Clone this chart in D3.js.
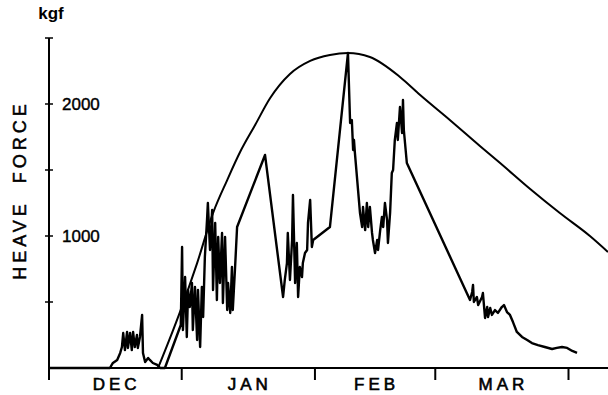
<!DOCTYPE html>
<html>
<head>
<meta charset="utf-8">
<script src="https://cdn.jsdelivr.net/npm/d3@7"></script>
<style>
  body { margin: 0; background: #fff; }
  text { font-family: "Liberation Sans", Arial, sans-serif; fill: #000; }
</style>
</head>
<body>
<div id="mainContainer"><svg></svg></div>
<script>
const SVG_WIDTH = 608;
const SVG_HEIGHT = 395;

// days counted from 1 December
const monthStarts = [0, 31, 62, 90, 121];
const monthNames = ["DEC", "JAN", "FEB", "MAR"];
const forceTicks = [500, 1000, 1500, 2000];
const forceLabels = [1000, 2000];

// measured heave force (kgf)
const measuredDays = [0, 14.4, 15.1, 16.1, 16.8, 17.2, 17.5, 17.9, 18.4, 18.6, 19.1, 19.5, 19.8, 20.2, 20.7, 20.9, 21.4, 21.9, 22.1, 22.6, 23.3, 23.7, 24.4, 25.4, 26.1,
  27.2, 30.9, 31.2, 31.4, 31.9, 32.3, 32.6, 33.0, 33.5, 33.7, 34.2, 34.7, 34.9, 35.4, 35.8, 36.1, 36.5, 37.0, 37.2, 37.7, 38.2, 38.4, 38.9, 39.3, 39.6, 40.0, 40.5, 40.7, 41.2, 41.7, 41.9, 42.4, 42.8, 43.0, 43.5, 44.0,
  50.5, 54.7, 55.1, 55.6, 55.8, 56.3, 56.8, 57.0, 57.5, 57.9, 58.2, 58.6, 59.1, 59.3, 59.8, 60.3, 60.5, 61.0, 61.4, 61.7, 65.6,
  69.8, 70.3, 70.7, 71.0, 71.2, 71.4, 72.6, 73.1, 73.3, 73.8, 74.2, 74.5, 74.9, 75.4, 75.6, 76.1, 76.6, 76.8, 77.3, 77.7, 78.0, 78.4, 78.9, 79.1, 79.6, 80.0, 80.3, 80.7, 81.2, 81.4, 81.9, 82.4, 82.6, 82.8, 83.5,
  98.2, 98.7, 98.9, 99.1, 99.8, 100.1, 101.0, 101.2, 101.7, 102.2, 102.4, 102.9, 103.3, 104.0, 104.7, 105.6, 106.1, 106.8, 107.5, 108.2, 109.1, 110.3, 111.5, 112.6, 114.0, 115.6, 117.3, 118.4, 119.6, 120.8, 122.0, 123.1];
const measuredForce = [0, 0, 38, 61, 114, 159, 265, 136, 273, 152, 265, 136, 273, 159, 250, 152, 235, 402, 114, 45, 76, 61, 38, 23, 0,
  0, 326, 917, 288, 689, 235, 591, 462, 644, 288, 614, 212, 591, 159, 614, 386, 841, 1121, 1250, 894, 1197, 591, 1099, 515, 992, 644, 1023, 492, 992, 439, 644, 417, 765, 439, 742, 1068,
  1614, 538, 667, 795, 1023, 667, 970, 1311, 644, 947, 538, 765, 689, 795, 871, 894, 1099, 1273, 917, 970, 1068,
  2386, 1856, 1879, 1652, 1727, 1636, 1174, 1068, 1220, 1045, 1250, 1068, 1220, 1023, 970, 871, 970, 894, 1045, 1144, 1068, 1250, 1121, 947, 1174, 1477, 1500, 1727, 1856, 1727, 1977, 1780, 2030, 1803, 1553,
  515, 576, 629, 500, 538, 477, 538, 568, 379, 462, 386, 455, 402, 439, 417, 462, 477, 424, 402, 348, 273, 235, 212, 189, 174, 159, 144, 152, 159, 152, 129, 114];

// smooth envelope curve (kgf)
const envelopeDays = [25.6, 30.7, 34.7, 38.4, 41.7, 44.7, 48.2, 51.7, 56.3, 61.0, 65.6, 69.8, 74.9, 81.9, 86.6, 93.5, 100.5, 105.2, 112.2, 119.1, 126.1, 130.3];
const envelopeForce = [0, 424, 795, 1174, 1424, 1636, 1841, 2045, 2227, 2326, 2371, 2386, 2356, 2205, 2068, 1879, 1682, 1553, 1356, 1174, 1000, 879];

const svg = d3.select('#mainContainer').select('svg')
    .attr('width', SVG_WIDTH)
    .attr('height', SVG_HEIGHT);

const X0 = 48, BASE = 368;
const x = d3.scaleLinear().domain([0, 121]).range([X0, 568]);
const y = d3.scaleLinear().domain([0, 2500]).range([BASE, 38]);

// x axis
const xAxis = d3.axisBottom(x)
    .tickValues(monthStarts.slice(1))
    .tickSize(12)
    .tickSizeOuter(0)
    .tickFormat('');
const gx = svg.append('g')
    .attr('transform', `translate(0,${BASE})`)
    .call(xAxis);
gx.select('.domain').attr('d', `M${X0},0H${SVG_WIDTH}`);
gx.selectAll('path, line').attr('stroke', '#000').attr('stroke-width', 2);

svg.selectAll('.month')
    .data(monthNames)
    .enter()
    .append('text')
    .attr('class', 'month')
    .attr('x', (d, i) => (x(monthStarts[i]) + x(monthStarts[i + 1])) / 2 + 2)
    .attr('y', 390)
    .attr('text-anchor', 'middle')
    .attr('font-size', 17)
    .attr('letter-spacing', 4)
    .attr('stroke', '#000').attr('stroke-width', 0.6)
    .text(d => d);

// y axis
svg.append('line')
    .attr('x1', X0 + 1).attr('x2', X0 + 1)
    .attr('y1', y(2500)).attr('y2', BASE + 12)
    .attr('stroke', '#000').attr('stroke-width', 2);
svg.append('line')
    .attr('x1', X0 - 3).attr('x2', X0 + 5)
    .attr('y1', y(2500)).attr('y2', y(2500))
    .attr('stroke', '#000').attr('stroke-width', 1.5);
svg.selectAll('.ytick')
    .data(forceTicks)
    .enter()
    .append('line')
    .attr('x1', X0 - 3).attr('x2', X0 + 5)
    .attr('y1', d => y(d)).attr('y2', d => y(d))
    .attr('stroke', '#000').attr('stroke-width', 1.5);

const yAxis = d3.axisRight(y).tickValues(forceLabels).tickSize(0).tickPadding(14).tickFormat(d3.format('d'));
const gy = svg.append('g').attr('transform', `translate(${X0},0)`).call(yAxis);
gy.select('.domain').remove();
gy.selectAll('text')
    .attr('font-size', 17)
    .attr('font-family', '"Liberation Sans", Arial, sans-serif')
    .attr('stroke', '#000').attr('stroke-width', 0.4);

svg.append('text')
    .attr('x', 51).attr('y', 19)
    .attr('text-anchor', 'middle')
    .attr('font-size', 17)
    .attr('font-weight', 'bold')
    .text('kgf');

svg.append('text')
    .attr('transform', 'translate(26,190) rotate(-90)')
    .attr('text-anchor', 'middle')
    .attr('font-size', 18)
    .attr('letter-spacing', 4)
    .attr('word-spacing', 8)
    .attr('stroke', '#000').attr('stroke-width', 0.5)
    .text('HEAVE FORCE');

// lines
const measured = measuredDays.map((d, i) => [d, measuredForce[i]]);
const envelope = envelopeDays.map((d, i) => [d, envelopeForce[i]]);

svg.append('path')
    .datum(envelope)
    .attr('fill', 'none')
    .attr('stroke', '#000')
    .attr('stroke-width', 2)
    .attr('d', d3.line().x(d => x(d[0])).y(d => y(d[1])).curve(d3.curveMonotoneX));

svg.append('path')
    .datum(measured)
    .attr('fill', 'none')
    .attr('stroke', '#000')
    .attr('stroke-width', 2.4)
    .attr('stroke-linejoin', 'round')
    .attr('d', d3.line().x(d => x(d[0])).y(d => y(d[1])));
</script>
</body>
</html>
